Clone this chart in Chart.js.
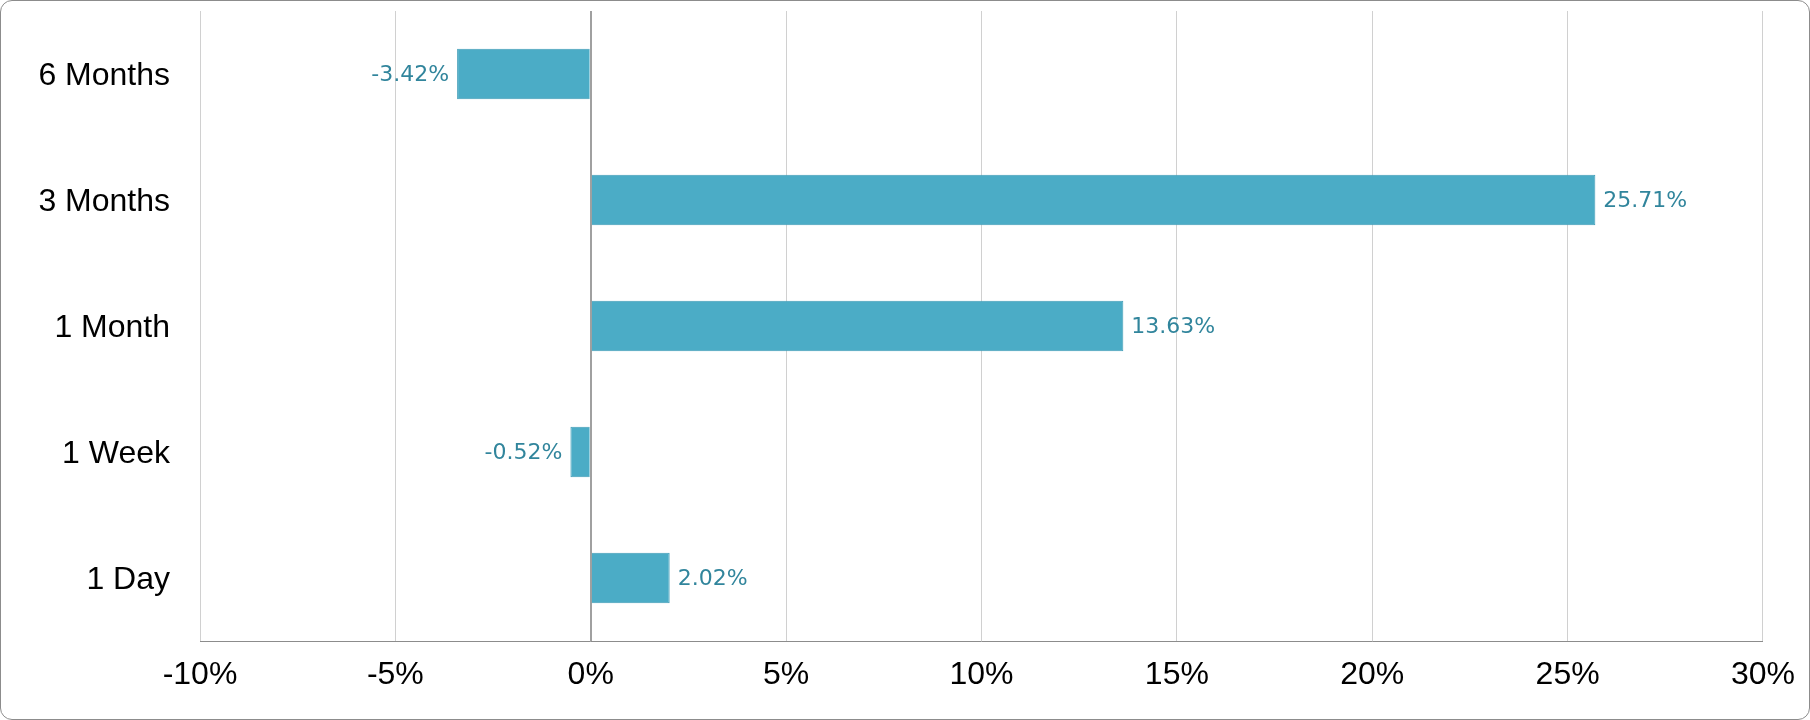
<!DOCTYPE html>
<html>
<head>
<meta charset="utf-8">
<script src="https://cdn.jsdelivr.net/npm/chart.js@4.4.0/dist/chart.umd.min.js"></script>
<style>
  body { margin: 0; background: #fff; }
  #wrap { position: relative; width: 1810px; height: 720px; }
  #frame {
    position: absolute; left: 0; top: 0; width: 1810px; height: 720px;
    box-sizing: border-box; border: 1px solid #8c8c8c; border-radius: 12px;
    pointer-events: none;
  }
</style>
</head>
<body>
<div id="wrap">
  <canvas id="returns" width="1810" height="720"></canvas>
  <div id="frame"></div>
</div>
<script>
const periods = ["6 Months", "3 Months", "1 Month", "1 Week", "1 Day"];
const returnsPct = [-3.42, 25.71, 13.63, -0.52, 2.02];
const axisMin = -10;
const axisMax = 30;
const axisStep = 5;

// writes the value next to the end of each bar
const valueLabels = {
    id: 'valueLabels',
    afterDatasetsDraw(chart) {
        const ctx = chart.ctx;
        const meta = chart.getDatasetMeta(0);
        ctx.save();
        ctx.font = '22px "DejaVu Sans", Verdana, sans-serif';
        ctx.fillStyle = '#31859C';
        ctx.textBaseline = 'middle';
        meta.data.forEach(function (bar, i) {
            let v = returnsPct[i];
            let text = v.toFixed(2) + '%';
            if (v >= 0) {
                ctx.textAlign = 'left';
                ctx.fillText(text, bar.x + 8, bar.y + 1);
            } else {
                ctx.textAlign = 'right';
                ctx.fillText(text, bar.x - 8, bar.y + 1);
            }
        });
        ctx.restore();
    }
};

const labelFont = { family: '"Liberation Sans", Arial, sans-serif', size: 32 };

new Chart(document.getElementById('returns'), {
    type: 'bar',
    data: {
        labels: periods,
        datasets: [{
            data: returnsPct,
            backgroundColor: '#4BACC6',
            borderColor: '#3E9CB6',
            borderWidth: 1,
            barPercentage: 0.4,
            categoryPercentage: 1
        }]
    },
    options: {
        indexAxis: 'y',
        responsive: false,
        animation: false,
        devicePixelRatio: 1,
        layout: { padding: { top: 11, right: 47, left: 0, bottom: 0 } },
        plugins: {
            legend: { display: false },
            tooltip: { enabled: false }
        },
        scales: {
            x: {
                min: axisMin,
                max: axisMax,
                afterFit: function (scale) { scale.height = 79; },
                ticks: {
                    stepSize: axisStep,
                    color: '#000',
                    font: labelFont,
                    padding: 15,
                    maxRotation: 0,
                    callback: function (v) { return v + '%'; }
                },
                grid: {
                    drawTicks: false,
                    color: function (c) { return c.tick && c.tick.value === 0 ? '#a0a0a0' : '#d0d0d0'; },
                    lineWidth: function (c) { return c.tick && c.tick.value === 0 ? 2 : 1; }
                },
                border: { color: '#8c8c8c', width: 1 }
            },
            y: {
                afterFit: function (scale) {
                    scale.width = 200;
                    // the tick padding should only push the labels sideways
                    scale.paddingTop = 0;
                    scale.paddingBottom = 0;
                },
                ticks: {
                    color: '#000',
                    font: labelFont,
                    padding: 30,
                    labelOffset: 2
                },
                grid: { display: false, drawTicks: false },
                border: { display: false }
            }
        }
    },
    plugins: [valueLabels]
});
</script>
</body>
</html>
